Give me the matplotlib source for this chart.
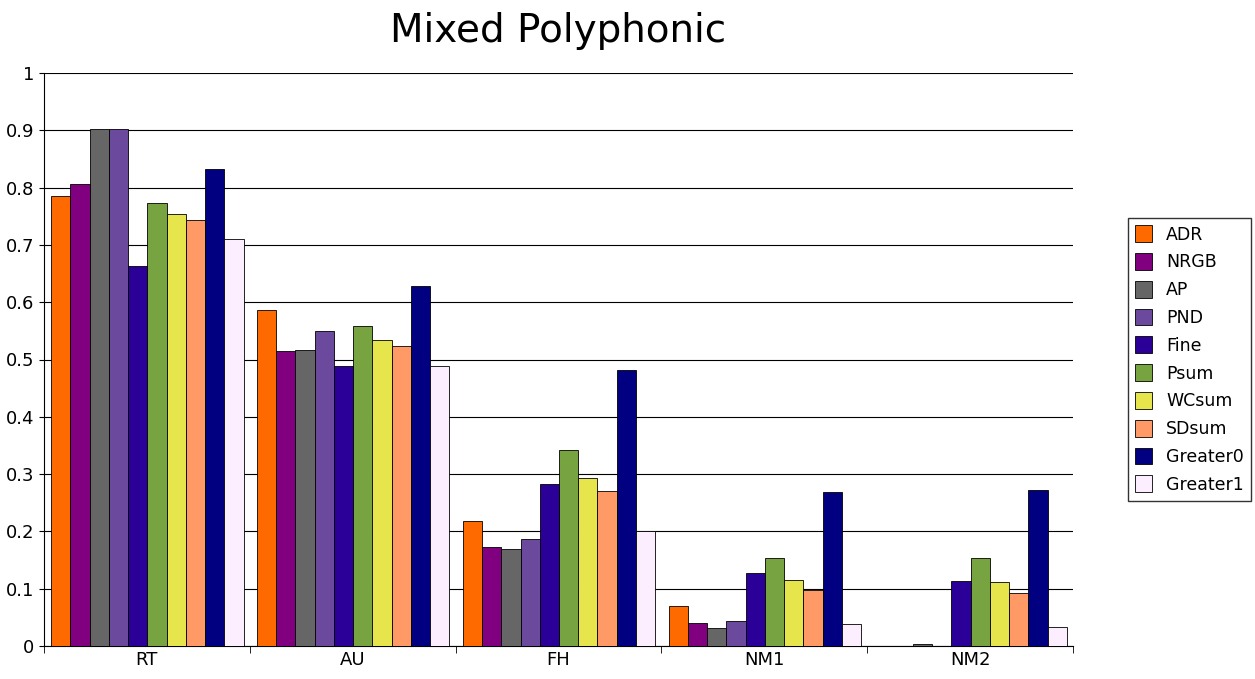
import numpy as np
import matplotlib.pyplot as plt

groups = ["RT", "AU", "FH", "NM1", "NM2"]
series = ["ADR", "NRGB", "AP", "PND", "Fine", "Psum", "WCsum", "SDsum", "Greater0", "Greater1"]
colors = ["#ff6a00", "#800080", "#666666", "#6b4a9e", "#2b0099",
          "#77a341", "#e6e64c", "#ff9966", "#000080", "#fdeeff"]

ADR = [0.785, 0.587, 0.219, 0.070, 0.0]
NRGB = [0.807, 0.515, 0.173, 0.040, 0.0]
AP = [0.903, 0.517, 0.170, 0.031, 0.004]
PND = [0.903, 0.549, 0.187, 0.044, 0.0]
Fine = [0.664, 0.489, 0.283, 0.128, 0.114]
Psum = [0.773, 0.558, 0.342, 0.153, 0.153]
WCsum = [0.754, 0.534, 0.294, 0.116, 0.112]
SDsum = [0.743, 0.524, 0.271, 0.097, 0.093]
Greater0 = [0.833, 0.629, 0.482, 0.268, 0.273]
Greater1 = [0.711, 0.489, 0.200, 0.039, 0.033]
values = [ADR, NRGB, AP, PND, Fine, Psum, WCsum, SDsum, Greater0, Greater1]

fig = plt.figure(figsize=(12.55, 6.79), dpi=100)
ax = fig.add_axes([44/1255, 33/679, 1029/1255, 573/679])

x = np.arange(len(groups))
w = 0.0935
for i, (name, vals) in enumerate(zip(series, values)):
    ax.bar(x - 0.5 + 0.035 + w * (i + 0.5), vals, w, color=colors[i],
           edgecolor="black", linewidth=0.6, label=name, zorder=3)

ax.set_xlim(-0.5, len(groups) - 0.5)
ax.set_ylim(0, 1)
ax.set_yticks(np.arange(0, 1.01, 0.1))
ax.set_yticklabels(["0", "0.1", "0.2", "0.3", "0.4", "0.5", "0.6", "0.7", "0.8", "0.9", "1"], fontsize=13)
ax.set_xticks(x)
ax.set_xticklabels(groups, fontsize=13)
ax.set_xticks(np.arange(-0.5, len(groups)), minor=True)
ax.tick_params(axis="x", which="major", length=0)
ax.tick_params(axis="x", which="minor", length=5)
ax.yaxis.grid(True, color="black", linewidth=0.8, zorder=0)
for s in ["top", "right"]:
    ax.spines[s].set_visible(False)
ax.set_title("Mixed Polyphonic", fontsize=28, pad=22)

ax.legend(loc="center left", bbox_to_anchor=(1.045, 0.5), fontsize=12.5,
          frameon=True, fancybox=False, edgecolor="black", handlelength=1.0,
          handleheight=1.1, labelspacing=0.55, borderpad=0.4)

fig.savefig("out.png", dpi=100)
